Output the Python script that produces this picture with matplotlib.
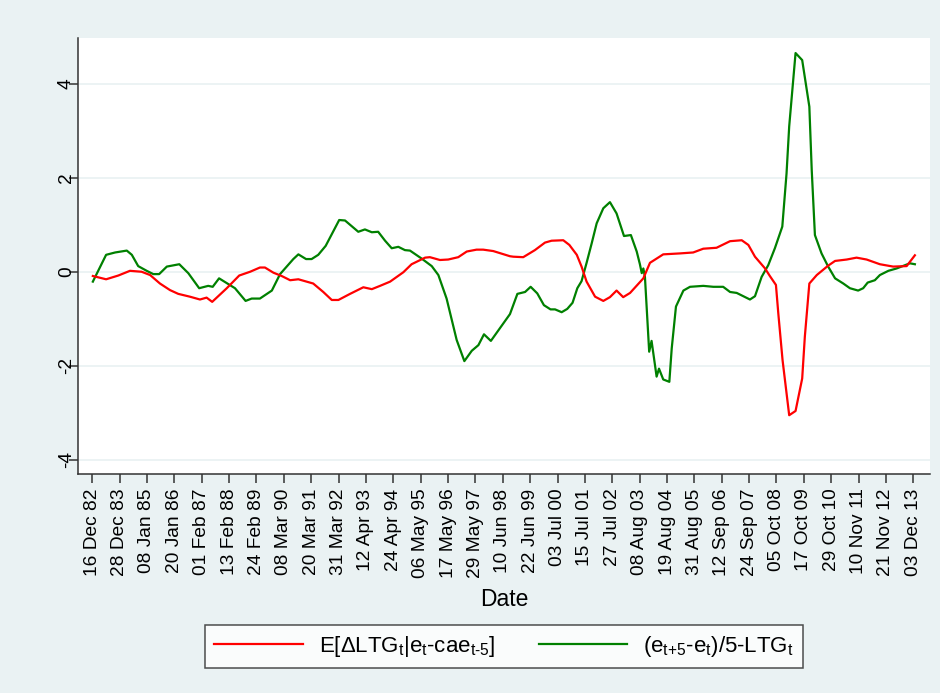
import numpy as np
import pandas as pd
import matplotlib
matplotlib.use("Agg")
import matplotlib.pyplot as plt

plt.rcParams['font.family'] = ['Liberation Sans', 'DejaVu Sans']
plt.rcParams['mathtext.fontset'] = 'custom'
plt.rcParams['mathtext.rm'] = 'Liberation Sans'
plt.rcParams['mathtext.it'] = 'Liberation Sans'

# E[dLTG | e - cae]  (decimal year, value)
red_year = [1982.98, 1983.48, 1983.94, 1984.38, 1984.82, 1985.14, 1985.51, 1985.89,
            1986.20, 1986.64, 1987.02, 1987.27, 1987.48, 1988.03, 1988.50, 1988.91,
            1989.28, 1989.47, 1989.79, 1990.10, 1990.42, 1990.73, 1991.29, 1991.67,
            1991.99, 1992.24, 1992.68, 1993.18, 1993.50, 1993.81, 1994.19, 1994.69,
            1995.00, 1995.51, 1995.69, 1996.07, 1996.38, 1996.76, 1997.08, 1997.45,
            1997.70, 1998.08, 1998.71, 1998.84, 1999.21, 1999.65, 2000.03, 2000.28,
            2000.72, 2000.95, 2001.23, 2001.41, 2001.60, 2001.92, 2002.23, 2002.48,
            2002.73, 2002.98, 2003.24, 2003.74, 2003.99, 2004.49, 2005.12, 2005.62,
            2006.00, 2006.50, 2007.01, 2007.45, 2007.70, 2007.95, 2008.33, 2008.51,
            2008.74, 2008.83, 2008.99, 2009.24, 2009.48, 2009.73, 2009.83, 2010.00,
            2010.28, 2010.71, 2010.97, 2011.41, 2011.78, 2012.16, 2012.66, 2013.16,
            2013.67, 2013.79, 2013.98]
red_val = [-0.09, -0.16, -0.08, 0.02, 0.00, -0.07, -0.25, -0.39,
           -0.47, -0.53, -0.59, -0.55, -0.64, -0.35, -0.08, 0.00,
           0.09, 0.09, -0.02, -0.09, -0.18, -0.16, -0.25, -0.43,
           -0.60, -0.60, -0.47, -0.33, -0.37, -0.30, -0.21, -0.01,
           0.16, 0.30, 0.31, 0.25, 0.26, 0.31, 0.43, 0.47,
           0.47, 0.44, 0.33, 0.32, 0.31, 0.46, 0.62, 0.66,
           0.67, 0.57, 0.36, 0.11, -0.21, -0.53, -0.62, -0.54,
           -0.40, -0.54, -0.45, -0.14, 0.19, 0.37, 0.39, 0.41,
           0.49, 0.51, 0.65, 0.67, 0.57, 0.32, 0.07, -0.09,
           -0.28, -0.89, -1.88, -3.05, -2.96, -2.27, -1.38, -0.25,
           -0.07, 0.13, 0.23, 0.26, 0.30, 0.26, 0.16, 0.11,
           0.12, 0.21, 0.35]

# (e_t+5 - e_t)/5 - LTG_t
green_year = [1982.98, 1983.48, 1983.82, 1984.26, 1984.45, 1984.69, 1985.01, 1985.26,
              1985.48, 1985.77, 1986.24, 1986.58, 1986.99, 1987.33, 1987.50, 1987.74,
              1988.34, 1988.74, 1988.97, 1989.28, 1989.73, 1990.04, 1990.54, 1990.73,
              1991.02, 1991.23, 1991.48, 1991.76, 1992.27, 1992.49, 1992.99, 1993.24,
              1993.50, 1993.74, 1994.00, 1994.25, 1994.50, 1994.75, 1994.94, 1995.38,
              1995.76, 1996.01, 1996.32, 1996.70, 1996.99, 1997.27, 1997.52, 1997.73,
              1997.99, 1998.71, 1998.99, 1999.28, 1999.49, 1999.74, 1999.99, 2000.24,
              2000.41, 2000.66, 2000.87, 2001.07, 2001.25, 2001.41, 2001.60, 2001.79,
              2001.98, 2002.23, 2002.48, 2002.73, 2003.01, 2003.27, 2003.49, 2003.61,
              2003.68, 2003.74, 2003.80, 2003.96, 2004.05, 2004.24, 2004.33, 2004.49,
              2004.72, 2004.81, 2004.97, 2005.25, 2005.50, 2006.00, 2006.38, 2006.75,
              2007.01, 2007.26, 2007.51, 2007.76, 2007.95, 2008.20, 2008.45, 2008.70,
              2008.98, 2009.14, 2009.24, 2009.48, 2009.73, 2010.00, 2010.09, 2010.21,
              2010.46, 2010.71, 2010.97, 2011.28, 2011.53, 2011.84, 2012.03, 2012.20,
              2012.47, 2012.66, 2012.98, 2013.29, 2013.61, 2013.79, 2013.98]
green_val = [-0.21, 0.36, 0.41, 0.45, 0.36, 0.12, 0.02, -0.05,
             -0.05, 0.11, 0.16, -0.03, -0.35, -0.30, -0.32, -0.14,
             -0.35, -0.62, -0.57, -0.57, -0.40, -0.05, 0.27, 0.37,
             0.27, 0.27, 0.36, 0.55, 1.10, 1.09, 0.85, 0.90,
             0.84, 0.85, 0.66, 0.50, 0.53, 0.46, 0.45, 0.28,
             0.12, -0.07, -0.57, -1.45, -1.90, -1.68, -1.56, -1.33,
             -1.47, -0.90, -0.47, -0.43, -0.32, -0.46, -0.71, -0.80,
             -0.80, -0.86, -0.79, -0.66, -0.35, -0.20, 0.19, 0.60,
             1.03, 1.35, 1.48, 1.24, 0.76, 0.78, 0.43, 0.16,
             -0.03, 0.07, -0.11, -1.70, -1.47, -2.23, -2.06, -2.29,
             -2.34, -1.63, -0.74, -0.40, -0.32, -0.30, -0.32, -0.32,
             -0.43, -0.45, -0.52, -0.59, -0.52, -0.11, 0.14, 0.50,
             0.96, 2.09, 3.09, 4.65, 4.50, 3.51, 2.16, 0.78,
             0.39, 0.11, -0.14, -0.25, -0.35, -0.40, -0.35, -0.23,
             -0.18, -0.07, 0.02, 0.07, 0.14, 0.18, 0.16]

tick_labels = ["16 Dec 82", "28 Dec 83", "08 Jan 85", "20 Jan 86", "01 Feb 87",
               "13 Feb 88", "24 Feb 89", "08 Mar 90", "20 Mar 91", "31 Mar 92",
               "12 Apr 93", "24 Apr 94", "06 May 95", "17 May 96", "29 May 97",
               "10 Jun 98", "22 Jun 99", "03 Jul 00", "15 Jul 01", "27 Jul 02",
               "08 Aug 03", "19 Aug 04", "31 Aug 05", "12 Sep 06", "24 Sep 07",
               "05 Oct 08", "17 Oct 09", "29 Oct 10", "10 Nov 11", "21 Nov 12",
               "03 Dec 13"]
y_ticks = [-4, -2, 0, 2, 4]

red_label = r'E[ΔLTG$_{\text{t}}$|e$_{\text{t}}$-cae$_{\text{t-5}}$]'
green_label = r'(e$_{\text{t+5}}$-e$_{\text{t}}$)/5-LTG$_{\text{t}}$'

# tick dates -> decimal years
td = pd.to_datetime(tick_labels, format="%d %b %y")
tick_pos = td.year + (td.dayofyear - 1) / 365.25

bg = "#eaf2f3"
fig = plt.figure(figsize=(9.4, 6.93), dpi=100, facecolor=bg)
ax = fig.add_axes([78/940, 1 - 474/693, (930 - 78)/940, (474 - 38)/693])
ax.set_facecolor("white")

for y in y_ticks:
    ax.axhline(y, color=bg, lw=1.3, zorder=0)

ax.plot(red_year, red_val, color="#ff0000", lw=1.6, label=red_label, zorder=3)
ax.plot(green_year, green_val, color="#008000", lw=1.6, label=green_label, zorder=2)

ax.set_xlim(1982.42, 2014.55)
ax.set_ylim(-4.30, 4.97)

ax.set_xticks(tick_pos)
ax.set_xticklabels(tick_labels, rotation=90, fontsize=13.8)
ax.set_yticks(y_ticks)
ax.set_yticklabels([str(v) for v in y_ticks], rotation=90, va="center", fontsize=13.8)
ax.tick_params(axis="both", direction="out", length=6.5, width=1.1, color="#333333")
ax.tick_params(axis="x", pad=4)
ax.tick_params(axis="y", pad=-4.3)

for s in ["top", "right"]:
    ax.spines[s].set_visible(False)
for s in ["left", "bottom"]:
    ax.spines[s].set_color("#333333")
    ax.spines[s].set_linewidth(1.1)

ax.set_xlabel("Date", fontsize=16.5, labelpad=7)

leg = fig.legend(loc="center", bbox_to_anchor=(504/940, 1 - 646.5/693), ncol=2,
                 fontsize=16, frameon=True, fancybox=False, edgecolor="#222222",
                 handlelength=4.0, handletextpad=0.7, columnspacing=1.95,
                 borderpad=0.4, borderaxespad=0)
leg.get_frame().set_linewidth(1.1)
leg.get_frame().set_facecolor("white")
for line in leg.get_lines():
    line.set_linewidth(1.6)

fig.savefig("out.png", dpi=100, facecolor=bg)
